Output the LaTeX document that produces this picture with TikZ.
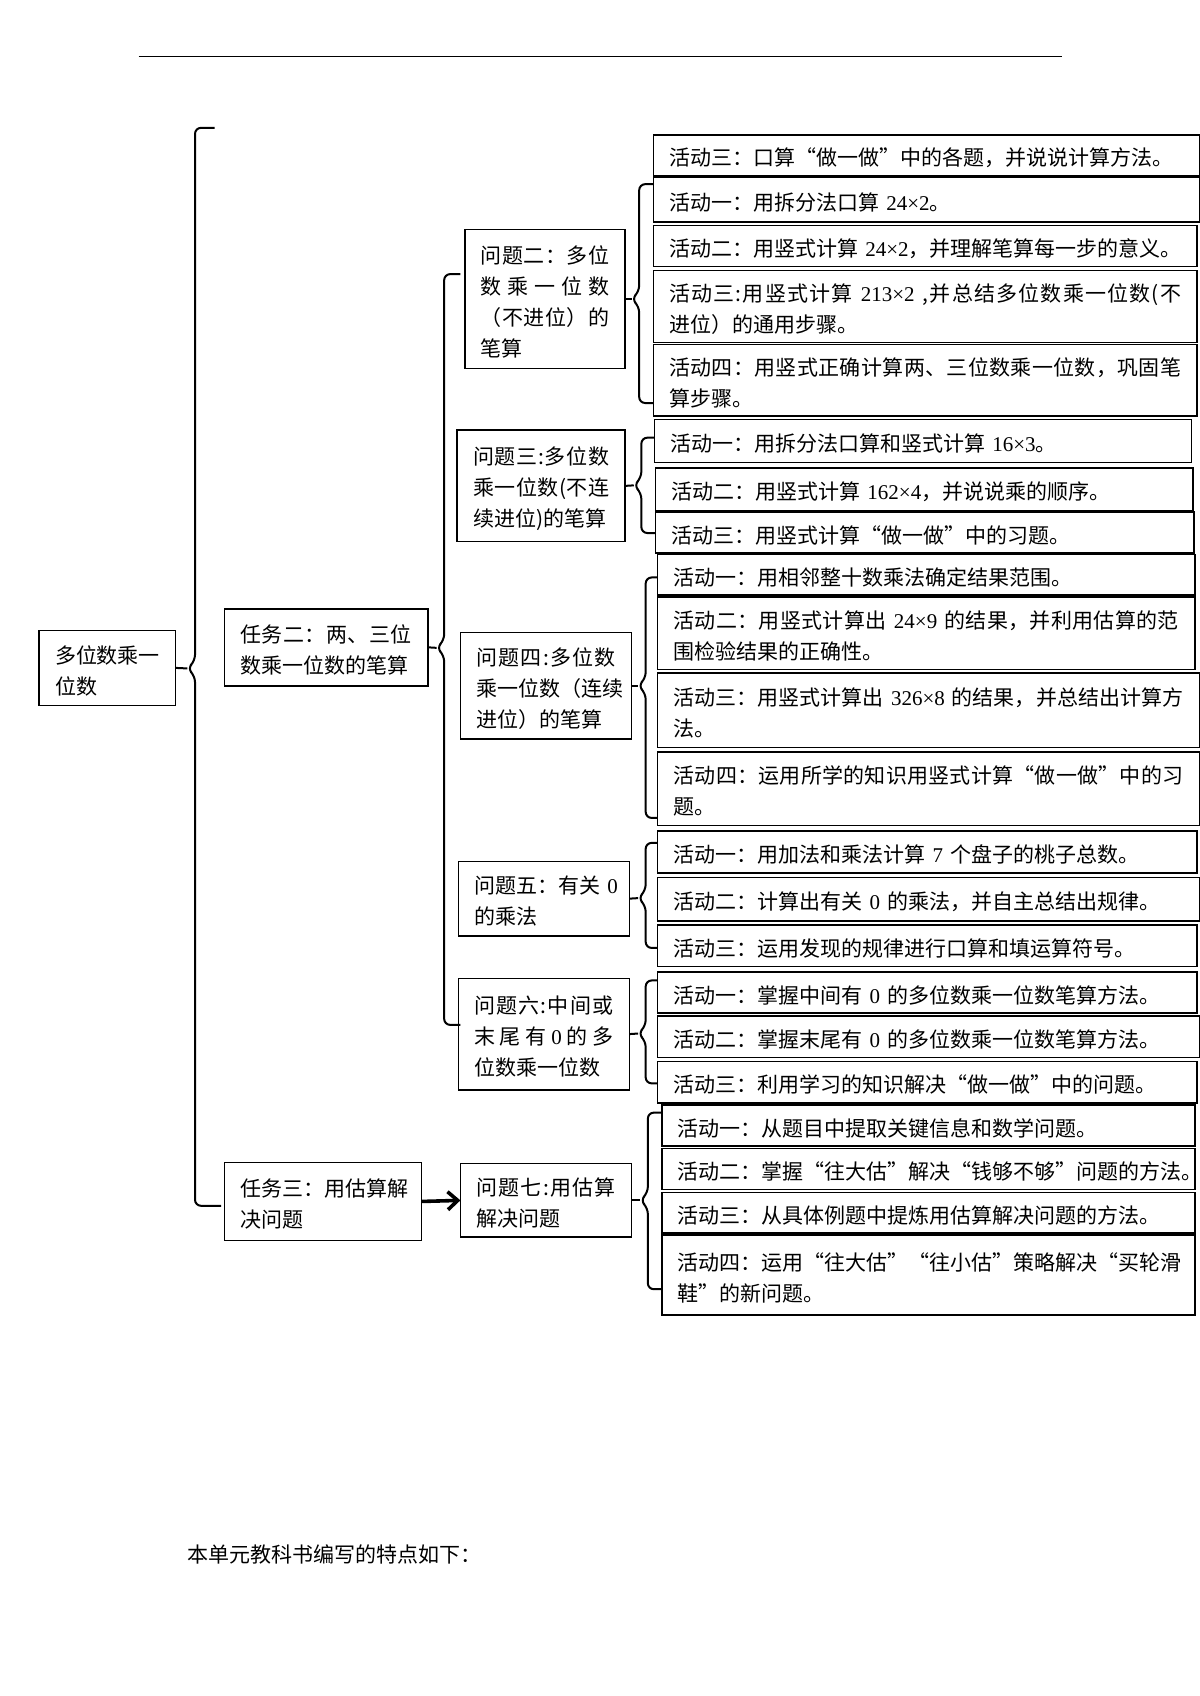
\documentclass[tikz,border=0pt]{standalone}
\usepackage{fontspec}
\setmainfont{Noto Sans CJK SC}
\newfontfamily\lat{Liberation Serif}
\usetikzlibrary{arrows.meta}
\newcommand\nm[1]{{\lat\ #1\ }}
\newcommand\nmL[1]{{\lat\ #1}}
\def\spreadit#1{\par\noindent\hbox to\linewidth{\spreadfirst#1\relax}\par}
\def\spreadfirst#1{#1\spreadloop}
\def\spreadloop#1{\ifx\relax#1\else\hskip0pt plus 1fil #1\expandafter\spreadloop\fi}
\newcommand\lnat[1]{\par\noindent\hbox{#1}\par}
\def\uu{0.5417}
\newcommand\bx[6]{%
  \pgfmathsetmacro\bw{(#4-#2)*\uu}%
  \pgfmathsetmacro\bh{(#5-#3)*\uu}%
  \pgfmathsetmacro\tw{(#4-#2)*\uu-16}%
  \node[bxs,minimum width=\bw pt,minimum height=\bh pt,text width=\tw pt] (#1) at ({(#2+#4)/2},{(#3+#5)/2}) {#6\par\kern4pt\hrule height0pt};}
% brace: x, top, bottom, mid, hook-end-top, hook-end-bottom
\newcommand\brc[6]{%
  \draw[brcs] (#5,#2) -- (#1,#2) -- (#1,#4-7) -- (#1-7,#4) -- (#1,#4+7) -- (#1,#3) -- (#6,#3);
  \coordinate (cusp) at (#1-7,#4);}
\tikzset{
  bxs/.style={draw,line width=0.75pt,inner xsep=8pt,inner ysep=0pt,outer sep=0pt,
    font=\fontsize{10.5pt}{15.5pt}\selectfont},
  brcs/.style={draw,line width=1pt,rounded corners=3pt},
  lnk/.style={draw,line width=1pt},
  arr/.style={draw,line width=1.8pt,-{Straight Barb[length=5pt,width=9pt]}},
  rule/.style={draw,line width=0.5pt}
}
\begin{document}
\begin{tikzpicture}[x=0.5417pt,y=-0.5417pt]
\useasboundingbox (0,0) rectangle (1107.6,1565.5);
\coordinate (ruleL) at (128,52);
\coordinate (ruleR) at (980,52);
\draw[rule] (ruleL) -- (ruleR);

% level 0/1
\bx{main}{36}{582}{162}{651}{\lnat{多位数乘一}\lnat{位数}}
\bx{t2}{207}{562}{395}{633}{\spreadit{任务二：两、三位}\lnat{数乘一位数的笔算}}
\bx{t3}{207}{1073}{389}{1145}{\spreadit{任务三：用估算解}\lnat{决问题}}

% problems
\bx{q2}{429}{212}{577}{340}{\spreadit{问题二：多位}\spreadit{数乘一位数}\spreadit{（不进位）的}\lnat{笔算}}
\bx{q3}{422}{397}{577}{500}{\spreadit{问题三:多位数}\spreadit{乘一位数(不连}\lnat{续进位)的笔算}}
\bx{q4}{425}{584}{583}{682}{\spreadit{问题四:多位数}\spreadit{乘一位数（连续}\lnat{进位）的笔算}}
\bx{q5}{423}{795}{581}{864}{\spreadit{问题五：有关{{\lat\ 0}}}\lnat{的乘法}}
\bx{q6}{423}{903}{581}{1006}{\spreadit{问题六:中间或}\spreadit{末尾有{{\lat 0}}的多}\lnat{位数乘一位数}}
\bx{q7}{425}{1074}{583}{1142}{\spreadit{问题七:用估算}\lnat{解决问题}}

% activities
\bx{a0}{603}{125}{1107}{162}{\lnat{活动三：口算“做一做”中的各题，并说说计算方法。}}
\bx{a21}{603}{164}{1107}{205}{\lnat{活动一：用拆分法口算\nmL{24×2}。}}
\bx{a22}{603}{208}{1105}{246}{\lnat{活动二：用竖式计算\nmL{24×2}，并理解笔算每一步的意义。}}
\bx{a23}{603}{250}{1105}{316}{\spreadit{活动三:用竖式计算{\nm{213×2}},并总结多位数乘一位数(不}\lnat{进位）的通用步骤。}}
\bx{a24}{603}{318}{1105}{384}{\spreadit{活动四：用竖式正确计算两、三位数乘一位数，巩固笔}\lnat{算步骤。}}
\bx{a31}{604}{387}{1100}{427}{\lnat{活动一：用拆分法口算和竖式计算\nmL{16×3}。}}
\bx{a32}{605}{432}{1101}{471}{\lnat{活动二：用竖式计算\nmL{162×4}，并说说乘的顺序。}}
\bx{a33}{605}{473}{1102}{510}{\lnat{活动三：用竖式计算“做一做”中的习题。}}
\bx{a41}{607}{512}{1103}{549}{\lnat{活动一：用相邻整十数乘法确定结果范围。}}
\bx{a42}{607}{551}{1103}{618}{\spreadit{活动二：用竖式计算出{\nm{24×9}}的结果，并利用估算的范}\lnat{围检验结果的正确性。}}
\bx{a43}{607}{621}{1107}{690}{\spreadit{活动三：用竖式计算出{\nm{326×8}}的结果，并总结出计算方}\lnat{法。}}
\bx{a44}{607}{694}{1107}{762}{\spreadit{活动四：运用所学的知识用竖式计算“做一做”中的习}\lnat{题。}}
\bx{a51}{607}{767}{1105}{806}{\lnat{活动一：用加法和乘法计算\nm{7}个盘子的桃子总数。}}
\bx{a52}{607}{810}{1107}{850}{\lnat{活动二：计算出有关\nm{0}的乘法，并自主总结出规律。}}
\bx{a53}{607}{854}{1105}{892}{\lnat{活动三：运用发现的规律进行口算和填运算符号。}}
\bx{a61}{607}{897}{1105}{935}{\lnat{活动一：掌握中间有\nm{0}的多位数乘一位数笔算方法。}}
\bx{a62}{607}{938}{1107}{976}{\lnat{活动二：掌握末尾有\nm{0}的多位数乘一位数笔算方法。}}
\bx{a63}{607}{980}{1105}{1018}{\lnat{活动三：利用学习的知识解决“做一做”中的问题。}}
\bx{a71}{611}{1020}{1103}{1058}{\lnat{活动一：从题目中提取关键信息和数学问题。}}
\bx{a72}{611}{1060}{1103}{1098}{\lnat{活动二：掌握“往大估”解决“钱够不够”问题的方法。}}
\bx{a73}{611}{1101}{1103}{1138}{\lnat{活动三：从具体例题中提炼用估算解决问题的方法。}}
\bx{a74}{611}{1140}{1103}{1214}{\spreadit{活动四：运用“往大估”“往小估”策略解决“买轮滑}\lnat{鞋”的新问题。}}

% braces and links
\brc{180}{118}{1113}{617}{198}{204}
\draw[lnk] (main.east) -- (cusp);
\brc{410}{253}{946}{598}{425}{425}
\draw[lnk] (t2.east) -- (cusp);
\brc{590}{170}{372}{276}{603}{603}
\draw[lnk] (q2.east) -- (cusp);
\brc{592}{404}{492}{448}{604}{605}
\draw[lnk] (q3.east) -- (cusp);
\brc{596}{533}{755}{633}{607}{607}
\draw[lnk] (q4.east) -- (cusp);
\brc{596}{778}{875}{829}{607}{607}
\draw[lnk] (q5.east) -- (cusp);
\brc{596}{905}{1000}{954}{607}{607}
\draw[lnk] (q6.east) -- (cusp);
\brc{598}{1027}{1190}{1108}{611}{611}
\draw[lnk] (q7.east) -- (cusp);
\draw[arr] (t3.east) -- (q7.west);

\node[anchor=west,inner sep=0pt,font=\fontsize{10.5pt}{15.5pt}\selectfont] (feat) at (173,1435) {本单元教科书编写的特点如下：};
\end{tikzpicture}
\end{document}
